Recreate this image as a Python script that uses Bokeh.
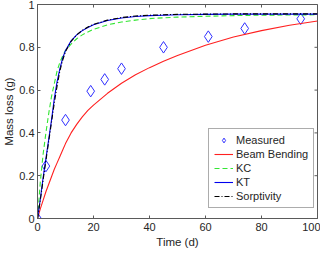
from bokeh.plotting import figure
from bokeh.models import Range1d, FixedTicker, Legend, LegendItem
from bokeh.embed import file_html
from bokeh.resources import INLINE

# ---- data ----
t_meas = [0, 3, 10, 19, 24, 30, 45, 61, 74, 94]
m_meas = [0, 0.245, 0.46, 0.595, 0.65, 0.70, 0.80, 0.85, 0.888, 0.933]

t_model = [0, 1, 2, 3, 4, 5, 6, 7, 8, 9, 10, 12, 14, 16, 18, 20, 25, 30, 35, 40,
           45, 50, 60, 70, 80, 90, 100]
beam = [0, 0.045, 0.085, 0.125, 0.16, 0.195, 0.23, 0.26, 0.29, 0.32, 0.35, 0.40,
        0.44, 0.475, 0.505, 0.53, 0.585, 0.632, 0.672, 0.705, 0.735, 0.762, 0.81,
        0.848, 0.878, 0.903, 0.923]
kc = [0, 0.17, 0.30, 0.40, 0.49, 0.57, 0.63, 0.69, 0.73, 0.76, 0.785, 0.815,
      0.84, 0.858, 0.872, 0.884, 0.905, 0.918, 0.927, 0.934, 0.938, 0.941, 0.945,
      0.948, 0.95, 0.951, 0.952]
kt = [0, 0.09, 0.19, 0.28, 0.37, 0.46, 0.56, 0.64, 0.70, 0.75, 0.785, 0.83,
      0.858, 0.878, 0.893, 0.905, 0.925, 0.937, 0.944, 0.948, 0.95, 0.952, 0.954,
      0.955, 0.955, 0.955, 0.955]
sorp = [0, 0.085, 0.18, 0.27, 0.36, 0.45, 0.54, 0.62, 0.69, 0.74, 0.78, 0.828,
        0.858, 0.879, 0.895, 0.907, 0.927, 0.939, 0.946, 0.95, 0.952, 0.954, 0.955,
        0.956, 0.956, 0.956, 0.956]

x_ticks = [0, 20, 40, 60, 80, 100]
y_ticks = [0, 0.2, 0.4, 0.6, 0.8, 1]
y_tick_labels = ["0", "0.2", "0.4", "0.6", "0.8", "1"]

FONT = "Liberation Sans"
AX = "#262626"
BOX = "#5a5a5a"

p = figure(width=320, height=250, output_backend="svg", toolbar_location=None,
           x_range=Range1d(0, 100), y_range=Range1d(0, 1),
           min_border_left=36, min_border_right=3, min_border_top=4,
           min_border_bottom=20)
p.background_fill_color = "white"
p.border_fill_color = "white"
p.outline_line_color = BOX
p.outline_line_width = 1
p.xgrid.visible = False
p.ygrid.visible = False

for ax in (p.xaxis[0], p.yaxis[0]):
    ax.axis_line_color = BOX
    ax.major_tick_line_color = BOX
    ax.major_tick_in = 3
    ax.major_tick_out = 0
    ax.minor_tick_line_color = None
    ax.major_label_text_font = FONT
    ax.major_label_text_font_size = "11px"
    ax.major_label_text_color = AX
    ax.axis_label_text_font = FONT
    ax.axis_label_text_font_size = "11.5px"
    ax.axis_label_text_font_style = "normal"
    ax.axis_label_text_color = AX

p.xaxis.ticker = FixedTicker(ticks=x_ticks)
p.yaxis.ticker = FixedTicker(ticks=y_ticks)
p.yaxis.major_label_overrides = {t: s for t, s in zip(y_ticks, y_tick_labels)}
p.xaxis.axis_label = "Time (d)"
p.yaxis.axis_label = "Mass loss (g)"
p.xaxis.major_label_standoff = 4
p.yaxis.major_label_standoff = 3
p.xaxis.axis_label_standoff = 2
p.yaxis.axis_label_standoff = 1

# inward ticks on the top and right edges of the box (clipped to the frame)
p.scatter(x_ticks, [1] * len(x_ticks), marker="dash", angle=1.5708, size=6,
          line_color=BOX, line_width=1)
p.scatter([100] * len(y_ticks), y_ticks, marker="dash", size=6,
          line_color=BOX, line_width=1)

r_meas = p.scatter(t_meas, m_meas, marker="diamond", size=11.5,
                   fill_color=None, line_color="#3030ff", line_width=1)
r_beam = p.line(t_model, beam, line_color="#ff2020", line_width=1.1)
r_kc = p.line(t_model, kc, line_color="#33e633", line_width=1.1, line_dash="5 3")
r_kt = p.line(t_model, kt, line_color="#0000ee", line_width=1.1)
r_sorp = p.line(t_model, sorp, line_color="black", line_width=1.1, line_dash="5 2 1 2")

legend = Legend(items=[
    LegendItem(label="Measured", renderers=[r_meas]),
    LegendItem(label="Beam Bending", renderers=[r_beam]),
    LegendItem(label="KC", renderers=[r_kc]),
    LegendItem(label="KT", renderers=[r_kt]),
    LegendItem(label="Sorptivity", renderers=[r_sorp]),
], location=(171, 10))
legend.label_text_font = FONT
legend.label_text_font_size = "11px"
legend.label_text_color = AX
legend.glyph_width = 19
legend.glyph_height = 12
legend.label_height = 12
legend.spacing = 2
legend.padding = 5
legend.margin = 0
legend.label_standoff = 3
legend.border_line_color = BOX
legend.border_line_width = 1
legend.background_fill_alpha = 1
p.add_layout(legend)

open("out.html", "w").write(file_html(p, INLINE))
